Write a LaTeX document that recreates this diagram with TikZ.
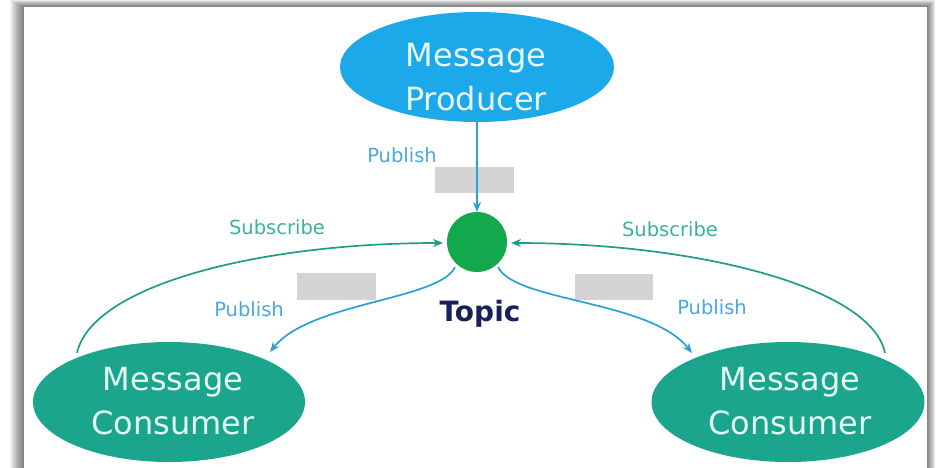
\documentclass[tikz,border=0pt]{standalone}
\usepackage{fontspec}
\setmainfont{DejaVu Sans}
\usetikzlibrary{shapes.geometric,arrows.meta}
\definecolor{prodblue}{HTML}{1BA9E9}
\definecolor{topicgreen}{HTML}{13A84B}
\definecolor{constea}{HTML}{1BA58C}
\definecolor{constext}{HTML}{E4FBF3}
\definecolor{prodtext}{HTML}{EAF7FF}
\definecolor{subline}{HTML}{1E9E86}
\definecolor{sublabel}{HTML}{3AB39A}
\definecolor{publine}{HTML}{2A9FD8}
\definecolor{publabel}{HTML}{4AA8E0}
\definecolor{topicnavy}{HTML}{17215A}
\definecolor{graybox}{HTML}{D4D4D4}
\begin{document}
\begin{tikzpicture}[x=1pt,y=-1pt,
  ell/.style={ellipse,inner sep=0pt},
  bigtext/.style={align=center,font=\fontsize{32}{44}\selectfont,inner sep=0pt},
  lbl/.style={font=\fontsize{19.5}{22}\selectfont,inner sep=0pt},
  blank/.style={fill=graybox,draw=none},
  subarrow/.style={draw=subline,line width=1.7pt,-{Stealth[length=10pt,width=8pt]}},
  pubarrow/.style={draw=publine,line width=1.7pt,-{Stealth[length=10pt,width=8pt]}}]
\useasboundingbox (0,0) rectangle (936,468);
% frame with shadow
\fill[white] (0,0) rectangle (936,468);
\foreach \k in {1,...,14}
  \fill[black,opacity=0.045] (24-\k,7-\k/2) rectangle (927+\k*0.6,470);
\fill[white] (24,7) rectangle (927,470);
% placeholder boxes
\fill[blank] (435,167) rectangle (514,193);
\fill[blank] (297,273) rectangle (376,300);
\fill[blank] (575,274) rectangle (653,300);
% nodes
\node[ell,fill=prodblue,minimum width=274pt,minimum height=110pt] (prod) at (477,67) {};
\node[bigtext,text=prodtext] (prodtxt) at (476,77.5) {Message\\Producer};
\node[circle,fill=topicgreen,minimum size=60pt,inner sep=0pt] (topic) at (477,242) {};
\node[font=\bfseries\fontsize{28}{30}\selectfont,text=topicnavy,inner sep=0pt] (topiclbl) at (480,314) {Topic};
\node[ell,fill=constea,minimum width=272pt,minimum height=120pt] (consL) at (169,402) {};
\node[bigtext,text=constext] (consLtxt) at (173,401.5) {Message\\Consumer};
\node[ell,fill=constea,minimum width=273pt,minimum height=120pt] (consR) at (788,402) {};
\node[bigtext,text=constext] (consRtxt) at (790,401.5) {Message\\Consumer};
% connector end points on shapes
\coordinate (prodB) at (477,122);
\coordinate (topicT) at (477,212);
\coordinate (topicL) at (443,243);
\coordinate (topicR) at (511,243);
\coordinate (topicBL) at (455,267);
\coordinate (topicBR) at (498,267);
\coordinate (consLsub) at (77,353);
\coordinate (consLpub) at (270,352);
\coordinate (consRsub) at (885,353);
\coordinate (consRpub) at (692,353);
% connectors
\draw[pubarrow] (prodB) -- (topicT);
\draw[subarrow] (consLsub) .. controls (92,285) and (260,243) .. (topicL);
\draw[subarrow] (consRsub) .. controls (872,288) and (700,243) .. (topicR);
\draw[pubarrow] (topicBL) .. controls (440,300) and (310,302) .. (consLpub);
\draw[pubarrow] (topicBR) .. controls (515,302) and (650,300) .. (consRpub);
% labels
\node[lbl,text=publabel] (pubtop) at (402,155) {Publish};
\node[lbl,text=sublabel] (subL) at (277,227) {Subscribe};
\node[lbl,text=sublabel] (subR) at (670,229) {Subscribe};
\node[lbl,text=publabel] (pubL) at (249,309) {Publish};
\node[lbl,text=publabel] (pubR) at (712,307) {Publish};
\end{tikzpicture}
\end{document}
